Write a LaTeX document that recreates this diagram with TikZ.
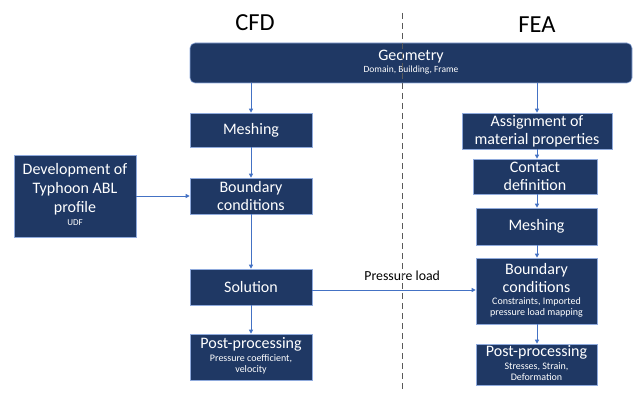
\documentclass[tikz,border=0pt]{standalone}
\usepackage{fontspec}
\setmainfont{Carlito}
\usetikzlibrary{arrows.meta}
\definecolor{navy}{RGB}{31,56,100}
\definecolor{edgeblue}{RGB}{143,170,220}
\definecolor{arrowblue}{RGB}{68,114,196}
\newcommand\subl[2]{{\fontsize{#1}{#1pt}\selectfont\renewcommand\arraystretch{1.1}\begin{tabular}[t]{@{}c@{}}#2\end{tabular}}}
\tikzset{
  box/.style={draw=edgeblue, line width=0.6pt, fill=navy, text=white, align=center, inner sep=1pt, font=\fontsize{16}{18}\selectfont},
  flow/.style={draw=arrowblue, line width=1pt, -{Triangle[length=4pt,width=4pt]}},
  title/.style={font=\fontsize{24.5}{28}\selectfont}
}
\begin{document}
\begin{tikzpicture}[x=1pt,y=-1pt]
\useasboundingbox (0,0) rectangle (634,393);
\node[title] (tcfd) at (255,22.5) {CFD};
\node[title] (tfea) at (537,24.5) {FEA};
\node[box, rounded corners=5pt, minimum width=442pt, minimum height=40pt] (geo) at (411,63)
  {Geometry\\[-5.5pt]\subl{9.5}{Domain, Building, Frame}};
\node[box, minimum width=122pt, minimum height=34pt] (cmesh) at (251,130) {Meshing};
\node[box, minimum width=122pt, minimum height=36pt] (cbc) at (251,196) {Boundary\\conditions};
\node[box, minimum width=122pt, minimum height=82pt, font=\fontsize{16}{19}\selectfont] (dev) at (75,196)
  {Development of\\Typhoon ABL\\profile\\[-6pt]\subl{9}{UDF}};
\node[box, minimum width=122pt, minimum height=36pt] (csol) at (251,287) {Solution};
\node[box, minimum width=122pt, minimum height=46pt] (cpost) at (251,357)
  {Post-processing\\[-5pt]\subl{10}{Pressure coefficient,\\velocity}};
\node[box, minimum width=150pt, minimum height=36pt] (fassign) at (537,131)
  {Assignment of\\material properties};
\node[box, minimum width=124pt, minimum height=35pt] (fcontact) at (535,176.5) {Contact\\definition};
\node[box, minimum width=121pt, minimum height=37pt] (fmesh) at (536.5,226.5) {Meshing};
\node[box, minimum width=121pt, minimum height=66pt] (fbc) at (536.5,291)
  {Boundary\\conditions\\[-6pt]\subl{10}{Constraints, Imported\\pressure load mapping}};
\node[box, minimum width=121pt, minimum height=41pt] (fpost) at (536.5,364.5)
  {Post-processing\\[-5pt]\subl{10}{Stresses, Strain,\\Deformation}};
\coordinate (cx) at (251,0);
\coordinate (fx) at (537,0);
\draw[flow] (geo.south -| cx) -- (cmesh.north);
\draw[flow] (cmesh.south) -- (cbc.north);
\draw[flow] (cbc.south) -- (csol.north);
\draw[flow] (csol.south) -- (cpost.north);
\draw[flow] (dev.east |- cbc.east) -- (cbc.west);
\draw[flow] (geo.south -| fx) -- (fassign.north -| fx);
\draw[flow] (fassign.south -| fx) -- (fcontact.north -| fx);
\draw[flow] (fcontact.south -| fx) -- (fmesh.north -| fx);
\draw[flow] (fmesh.south -| fx) -- (fbc.north -| fx);
\draw[flow] (fbc.south -| fx) -- (fpost.north -| fx);
\coordinate (pl) at (0,290);
\draw[flow] (csol.east |- pl) -- (fbc.west |- pl) node[pos=0.55, above=6pt, text=black, font=\fontsize{13.8}{16}\selectfont] (plabel) {Pressure load};
\coordinate (dtop) at (402,13);
\coordinate (dbot) at (402,393);
\draw[black!65, line width=0.8pt, dash pattern=on 6pt off 4pt] (dtop) -- (dbot);
\end{tikzpicture}
\end{document}
